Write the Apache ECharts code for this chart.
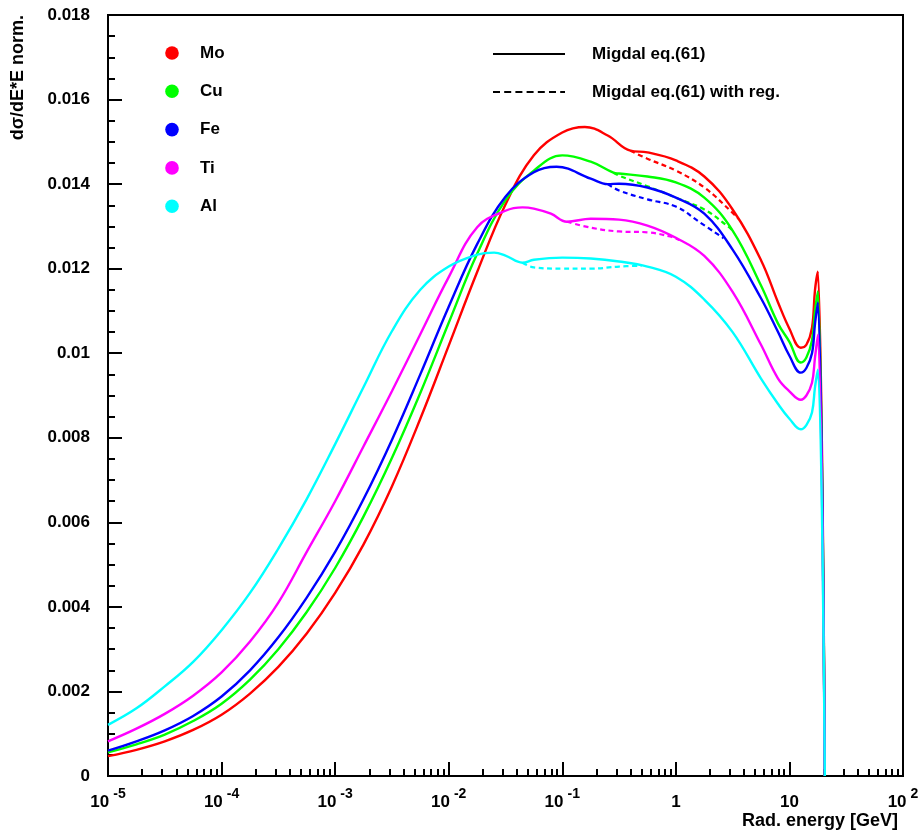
<!DOCTYPE html>
<html>
<head>
<meta charset="utf-8">
<script src="https://cdn.jsdelivr.net/npm/echarts@6/dist/echarts.min.js"></script>
<style>
  html, body { margin: 0; padding: 0; background: #fff; }
  #chart { width: 922px; height: 832px; }
</style>
</head>
<body>
<div id="chart"></div>
<script>
// Photon energies (GeV) and normalised spectra dσ/dE·E for each target.
const moE = [1e-5, 1.78e-5, 3.16e-5, 5.62e-5, 1e-4, 1.78e-4, 3.16e-4, 5.62e-4, 1e-3, 1.78e-3, 3.16e-3, 5.62e-3,
             0.01, 0.0178, 0.0316, 0.0562, 0.1, 0.158, 0.251, 0.398, 0.562, 1, 1.78, 3.16, 5.62,
             7.94, 10, 12.6, 14.1, 15.8, 16.8, 17.8, 20.5];
const moV = [0.00047, 0.00062, 0.00082, 0.00109, 0.00145, 0.00195, 0.00258, 0.00337, 0.00433, 0.00548, 0.00685, 0.00845,
             0.01018, 0.01192, 0.01352, 0.01468, 0.01522, 0.01535, 0.01515, 0.01479, 0.01475, 0.01456, 0.01418, 0.0134, 0.0122,
             0.0112, 0.01058, 0.01013, 0.0102, 0.0106, 0.0115, 0.01193, 0];
const moRegE = [0.398, 0.562, 1, 1.78, 3.16, 3.55];
const moRegV = [0.01479, 0.0146, 0.01432, 0.01392, 0.01332, 0.01318];

const cuE = [1e-5, 1.78e-5, 3.16e-5, 5.62e-5, 1e-4, 1.78e-4, 3.16e-4, 5.62e-4, 1e-3, 1.78e-3, 3.16e-3, 5.62e-3,
             0.01, 0.0178, 0.0316, 0.0562, 0.1, 0.178, 0.282, 0.316, 0.562, 1, 1.78, 3.16, 5.62,
             7.94, 10, 12.6, 14.1, 15.8, 16.8, 17.8, 20.5];
const cuV = [0.00056, 0.00075, 0.00098, 0.0013, 0.00171, 0.00228, 0.003, 0.00388, 0.00492, 0.00614, 0.00752, 0.00906,
             0.01072, 0.01235, 0.01362, 0.01432, 0.01468, 0.01453, 0.01427, 0.01425, 0.01418, 0.01404, 0.01368, 0.0129, 0.0116,
             0.0107, 0.01027, 0.00978, 0.0099, 0.0103, 0.011, 0.01146, 0];
const cuRegE = [0.282, 0.316, 0.562, 1, 1.78, 2.82, 3.16];
const cuRegV = [0.01427, 0.0142, 0.01395, 0.01368, 0.0134, 0.01302, 0.0129];

const feE = [1e-5, 1.78e-5, 3.16e-5, 5.62e-5, 1e-4, 1.78e-4, 3.16e-4, 5.62e-4, 1e-3, 1.78e-3, 3.16e-3, 5.62e-3,
             0.01, 0.0178, 0.0316, 0.0562, 0.0891, 0.178, 0.251, 0.316, 0.562, 1, 1.78, 3.16, 5.62,
             7.94, 10, 12.6, 14.1, 15.8, 16.8, 17.8, 20.5];
const feV = [0.0006, 0.00082, 0.00108, 0.00142, 0.00188, 0.0025, 0.00328, 0.00422, 0.0053, 0.00655, 0.00795, 0.0095,
             0.0111, 0.01258, 0.0137, 0.01428, 0.01441, 0.01413, 0.014, 0.01401, 0.01392, 0.01368, 0.0133, 0.01245, 0.0113,
             0.0105, 0.00994, 0.00954, 0.00965, 0.01, 0.0107, 0.0112, 0];
const feRegE = [0.251, 0.316, 0.562, 1, 1.58, 2.63];
const feRegV = [0.014, 0.01385, 0.01364, 0.01347, 0.01312, 0.01272];

const tiE = [1e-5, 1.78e-5, 3.16e-5, 5.62e-5, 1e-4, 1.78e-4, 3.16e-4, 5.62e-4, 1e-3, 1.78e-3, 3.16e-3, 5.62e-3,
             0.01, 0.0178, 0.0316, 0.0447, 0.0562, 0.0794, 0.11, 0.178, 0.316, 0.562, 1, 1.78, 3.16, 5.62,
             7.94, 10, 12.6, 14.1, 15.8, 16.8, 17.8, 20.5];
const tiV = [0.00082, 0.00112, 0.00147, 0.0019, 0.00245, 0.00318, 0.0041, 0.0053, 0.0065, 0.0078, 0.0091, 0.01045,
             0.0118, 0.01298, 0.01337, 0.01345, 0.01342, 0.0133, 0.01311, 0.01318, 0.01316, 0.01302, 0.01273, 0.0123, 0.01145, 0.0102,
             0.0094, 0.0091, 0.0089, 0.009, 0.0093, 0.0099, 0.01044, 0];
const tiRegE = [0.11, 0.178, 0.316, 0.562, 0.89, 1.07];
const tiRegV = [0.01311, 0.01297, 0.01288, 0.01286, 0.01276, 0.01268];

const alE = [1e-5, 1.78e-5, 3.16e-5, 5.62e-5, 1e-4, 1.78e-4, 3.16e-4, 5.62e-4, 1e-3, 1.78e-3, 3.16e-3, 5.62e-3,
             0.01, 0.0178, 0.0251, 0.0316, 0.0447, 0.0562, 0.1, 0.178, 0.316, 0.562, 1, 1.78, 3.16, 5.62,
             7.94, 10, 12.6, 14.1, 15.8, 16.8, 17.8, 20.5];
const alV = [0.00121, 0.0016, 0.00212, 0.0027, 0.00345, 0.00433, 0.00538, 0.00655, 0.00785, 0.0092, 0.01052, 0.0115,
             0.01205, 0.01233, 0.01238, 0.01231, 0.01214, 0.01221, 0.01226, 0.01224, 0.01217, 0.01205, 0.01181, 0.01127, 0.0105, 0.0094,
             0.0088, 0.00845, 0.0082, 0.0083, 0.0086, 0.0092, 0.00961, 0];
const alRegE = [0.0447, 0.0562, 0.1, 0.178, 0.316, 0.5];
const alRegV = [0.01214, 0.01203, 0.012, 0.012, 0.01205, 0.01207];

// Axis ticks
const decadeTicks = [1e-5, 1e-4, 1e-3, 1e-2, 1e-1, 1, 10, 100];
const minorMultipliers = [2, 3, 4, 5, 6, 7, 8, 9];
const yTickLabels = ['0', '0.002', '0.004', '0.006', '0.008', '0.01', '0.012', '0.014', '0.016', '0.018'];

const targets = ['Mo', 'Cu', 'Fe', 'Ti', 'Al'];
const colors = ['#ff0000', '#00ff00', '#0000ff', '#ff00ff', '#00ffff'];
const curveNames = ['Migdal eq.(61)', 'Migdal eq.(61) with reg.'];

const FONT = "'Liberation Sans', Arial, Helvetica, sans-serif";

const zip = (xs, ys) => xs.map((x, i) => [x, ys[i]]);
const solid = [zip(moE, moV), zip(cuE, cuV), zip(feE, feV), zip(tiE, tiV), zip(alE, alV)];
const reg = [zip(moRegE, moRegV), zip(cuRegE, cuRegV), zip(feRegE, feRegV), zip(tiRegE, tiRegV), zip(alRegE, alRegV)];

const minorTicks = [];
decadeTicks.slice(0, -1).forEach(d => minorMultipliers.forEach(m => minorTicks.push(+(d * m).toPrecision(3))));

const series = [];
targets.forEach((t, i) => {
  series.push({
    name: t, type: 'line', data: solid[i], xAxisIndex: 0, yAxisIndex: 0,
    showSymbol: false, smooth: 0.4, lineStyle: { color: colors[i], width: 2.4 }, z: 2 + i
  });
  series.push({
    name: t + ' reg', type: 'line', data: reg[i], xAxisIndex: 0, yAxisIndex: 0,
    showSymbol: false, smooth: 0.4, lineStyle: { color: colors[i], width: 2.2, type: [5, 3.5] }, z: 2 + i
  });
});

const legendGraphics = [];
targets.forEach((t, i) => {
  const cy = 53 + i * 38.3;
  legendGraphics.push({ type: 'circle', shape: { cx: 172, cy: cy, r: 6.8 }, style: { fill: colors[i] } });
  legendGraphics.push({ type: 'text', x: 200, y: cy, style: { text: t, fill: '#000', font: 'bold 17px ' + FONT, verticalAlign: 'middle', align: 'left' } });
});
legendGraphics.push({ type: 'line', shape: { x1: 493, y1: 54, x2: 565, y2: 54 }, style: { stroke: '#000', lineWidth: 2.2 } });
legendGraphics.push({ type: 'line', shape: { x1: 493, y1: 92, x2: 565, y2: 92 }, style: { stroke: '#000', lineWidth: 1.8, lineDash: [7, 4.2] } });
legendGraphics.push({ type: 'text', x: 592, y: 54, style: { text: curveNames[0], fill: '#000', font: 'bold 17px ' + FONT, verticalAlign: 'middle' } });
legendGraphics.push({ type: 'text', x: 592, y: 92, style: { text: curveNames[1], fill: '#000', font: 'bold 17px ' + FONT, verticalAlign: 'middle' } });
legendGraphics.push({ type: 'text', x: 18, y: 15, rotation: Math.PI / 2, style: { text: 'dσ/dE*E norm.', fill: '#000', font: 'bold 18px ' + FONT, align: 'right', verticalAlign: 'middle' } });
legendGraphics.push({ type: 'text', x: 898, y: 821, style: { text: 'Rad. energy [GeV]', fill: '#000', font: 'bold 18px ' + FONT, align: 'right', verticalAlign: 'middle' } });

const chart = echarts.init(document.getElementById('chart'), null, { renderer: 'canvas' });
chart.setOption({
  animation: false,
  backgroundColor: '#fff',
  grid: { left: 108, right: 19, top: 15, bottom: 56, show: true, borderColor: '#000', borderWidth: 2, backgroundColor: 'transparent' },
  xAxis: [{
    type: 'log', logBase: 10, min: 1e-5, max: 100, position: 'bottom',
    axisLine: { show: true, lineStyle: { color: '#000', width: 2 } },
    axisTick: { show: true, inside: true, length: 14, lineStyle: { color: '#000', width: 2 }, customValues: decadeTicks },
    axisLabel: {
      show: true, margin: 11, customValues: decadeTicks, color: '#000',
      formatter: v => {
        const e = Math.round(Math.log10(v));
        if (e === 0) return '{b|1}';
        if (e === 1) return '{b|10}';
        return '{b|10}{s|' + e + '}';
      },
      rich: {
        b: { fontFamily: FONT, fontWeight: 'bold', fontSize: 17, lineHeight: 30, color: '#000' },
        s: { fontFamily: FONT, fontWeight: 'bold', fontSize: 14, lineHeight: 6, verticalAlign: 'top', padding: [0, 0, 0, 4], color: '#000' }
      }
    },
    splitLine: { show: false }
  }, {
    type: 'log', logBase: 10, min: 1e-5, max: 100, position: 'bottom', offset: 0,
    axisLine: { show: false },
    axisTick: { show: true, inside: true, length: 7, lineStyle: { color: '#000', width: 2 }, customValues: minorTicks },
    axisLabel: { show: false },
    splitLine: { show: false }
  }],
  yAxis: {
    type: 'value', min: 0, max: 0.018, interval: 0.002,
    axisLine: { show: true, lineStyle: { color: '#000', width: 2 } },
    axisTick: { show: true, inside: true, length: 14, lineStyle: { color: '#000', width: 2 } },
    minorTick: { show: true, splitNumber: 4, length: 7, lineStyle: { color: '#000', width: 2 } },
    axisLabel: {
      margin: 18, color: '#000', fontFamily: FONT, fontWeight: 'bold', fontSize: 17,
      formatter: v => yTickLabels[Math.round(v / 0.002)]
    },
    splitLine: { show: false }
  },
  series: series,
  graphic: legendGraphics
});
</script>
</body>
</html>
